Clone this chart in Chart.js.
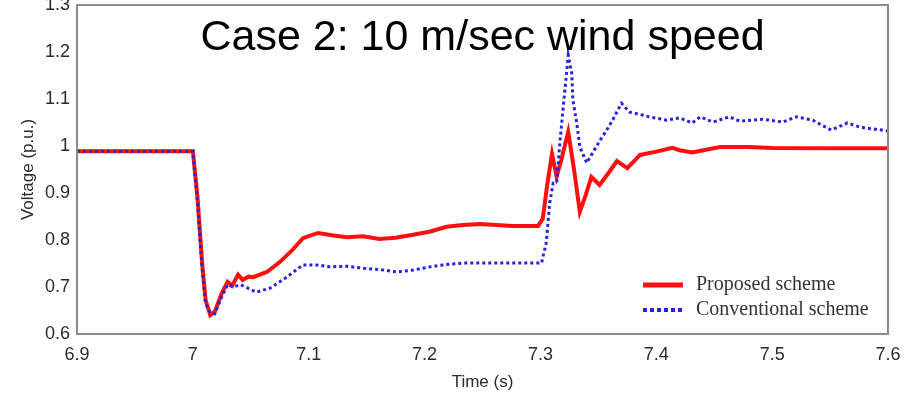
<!DOCTYPE html>
<html>
<head>
<meta charset="utf-8">
<script src="https://cdn.jsdelivr.net/npm/chart.js@4.4.1/dist/chart.umd.min.js"></script>
<style>
html,body{margin:0;padding:0;background:#fff;}
#wrap{width:906px;height:395px;}
</style>
</head>
<body>
<div id="wrap"><canvas id="c" width="906" height="395"></canvas></div>
<script>
// ---- data ----
const chartTitle = "Case 2: 10 m/sec wind speed";
const xTitle = "Time (s)";
const yTitle = "Voltage (p.u.)";
const seriesNames = ["Proposed scheme", "Conventional scheme"];
const xTicks = [6.9, 7.0, 7.1, 7.2, 7.3, 7.4, 7.5, 7.6];
const yTicks = [0.6, 0.7, 0.8, 0.9, 1.0, 1.1, 1.2, 1.3];

const proposedT = [6.9, 7.0, 7.004, 7.008, 7.011, 7.015, 7.019, 7.025, 7.030, 7.034, 7.039, 7.043, 7.048, 7.052,
  7.064, 7.075, 7.086, 7.095, 7.108, 7.120, 7.133, 7.147, 7.161, 7.175, 7.190, 7.205, 7.219, 7.233, 7.248,
  7.262, 7.276, 7.298, 7.302, 7.306, 7.310, 7.314, 7.318, 7.324, 7.329, 7.334, 7.339, 7.344, 7.351, 7.358,
  7.366, 7.375, 7.386, 7.400, 7.414, 7.420, 7.431, 7.445, 7.455, 7.480, 7.500, 7.550, 7.600];
const proposedV = [0.989, 0.989, 0.891, 0.751, 0.672, 0.640, 0.648, 0.687, 0.711, 0.703, 0.726, 0.715, 0.722, 0.721,
  0.732, 0.753, 0.779, 0.804, 0.815, 0.810, 0.806, 0.808, 0.802, 0.805, 0.811, 0.818, 0.828, 0.832, 0.834,
  0.832, 0.830, 0.830, 0.845, 0.920, 0.983, 0.935, 0.970, 1.030, 0.950, 0.860, 0.895, 0.934, 0.917, 0.940,
  0.968, 0.953, 0.981, 0.988, 0.996, 0.991, 0.986, 0.993, 0.998, 0.998, 0.996, 0.995, 0.995];

const conventionalT = [6.9, 7.0, 7.004, 7.008, 7.011, 7.015, 7.019, 7.025, 7.030, 7.035, 7.041, 7.047, 7.055,
  7.067, 7.081, 7.095, 7.107, 7.118, 7.133, 7.147, 7.162, 7.176, 7.190, 7.205, 7.219, 7.233, 7.262, 7.291,
  7.301, 7.305, 7.308, 7.311, 7.314, 7.317, 7.320, 7.324, 7.327, 7.328, 7.331, 7.334, 7.340, 7.350, 7.360,
  7.370, 7.377, 7.388, 7.394, 7.409, 7.420, 7.431, 7.438, 7.449, 7.463, 7.472, 7.492, 7.509, 7.521, 7.535,
  7.544, 7.551, 7.565, 7.576, 7.600];
const conventionalV = [0.989, 0.989, 0.880, 0.740, 0.665, 0.645, 0.643, 0.680, 0.705, 0.700, 0.705, 0.698, 0.689,
  0.698, 0.721, 0.747, 0.747, 0.743, 0.744, 0.740, 0.737, 0.732, 0.736, 0.743, 0.748, 0.751, 0.751, 0.751,
  0.751, 0.794, 0.879, 0.921, 0.922, 1.013, 1.091, 1.193, 1.155, 1.098, 1.055, 0.998, 0.964, 1.006, 1.045,
  1.091, 1.072, 1.066, 1.062, 1.055, 1.060, 1.049, 1.062, 1.051, 1.062, 1.053, 1.057, 1.051, 1.062, 1.055,
  1.043, 1.034, 1.049, 1.040, 1.032];

const toPts = (ts, vs) => ts.map((t, i) => ({x: t, y: vs[i]}));
const fmt = v => String(Number(v.toFixed(1)));
const SANS = '"Liberation Sans", Arial, sans-serif';

const framePlugin = {
  id: 'frameAndDecor',
  afterDraw(chart) {
    const {ctx, chartArea: a} = chart;
    ctx.save();
    // frame
    ctx.strokeStyle = '#8c8c8c';
    ctx.lineWidth = 2;
    ctx.strokeRect(a.left, a.top, a.right - a.left, a.bottom - a.top);
    // legend
    const ds = chart.data.datasets;
    const sx = a.right - 245, sl = 40, tx = a.right - 192;
    const rows = [a.bottom - 49, a.bottom - 24];
    ctx.font = '20px "Liberation Serif", "Times New Roman", serif';
    ctx.textBaseline = 'middle';
    ctx.textAlign = 'left';
    ds.forEach((d, i) => {
      const y = rows[i];
      ctx.beginPath();
      ctx.strokeStyle = d.borderColor;
      ctx.lineWidth = i === 0 ? 5 : 4;
      ctx.setLineDash(d.borderDash && d.borderDash.length ? [4, 3] : []);
      ctx.moveTo(sx, y);
      ctx.lineTo(sx + sl, y);
      ctx.stroke();
      ctx.setLineDash([]);
      ctx.fillStyle = '#333';
      ctx.fillText(d.label, tx, y);
    });
    // title overlay
    ctx.font = '43px ' + SANS;
    ctx.fillStyle = '#000';
    ctx.textAlign = 'center';
    ctx.textBaseline = 'alphabetic';
    ctx.fillText(chartTitle, (a.left + a.right) / 2, 50);
    ctx.restore();
  }
};

new Chart(document.getElementById('c'), {
  type: 'line',
  data: {
    datasets: [
      {label: seriesNames[0], data: toPts(proposedT, proposedV), borderColor: '#ff1010', borderWidth: 4,
       pointRadius: 0, tension: 0, fill: false, order: 2},
      {label: seriesNames[1], data: toPts(conventionalT, conventionalV), borderColor: '#2323e6', borderWidth: 3,
       borderDash: [3, 3], pointRadius: 0, tension: 0, fill: false, order: 1}
    ]
  },
  options: {
    responsive: false,
    animation: false,
    devicePixelRatio: 1,
    layout: {padding: {top: 5, right: 18, bottom: 0, left: 0}},
    plugins: {legend: {display: false}, title: {display: false}, tooltip: {enabled: false}},
    scales: {
      x: {
        type: 'linear', min: 6.9, max: 7.6,
        afterBuildTicks: s => { s.ticks = xTicks.map(v => ({value: v})); },
        afterFit: s => { s.height = 61; s.paddingLeft = 0; s.paddingRight = 0; },
        grid: {display: false, drawTicks: false, tickLength: 0},
        border: {display: false},
        ticks: {callback: v => fmt(v), padding: 10, color: '#2a2a2a', maxRotation: 0,
                font: {family: SANS, size: 18}},
        title: {display: true, text: xTitle, color: '#2a2a2a', padding: {top: 0, bottom: 2},
                font: {family: SANS, size: 17}}
      },
      y: {
        type: 'linear', min: 0.6, max: 1.3,
        afterBuildTicks: s => { s.ticks = yTicks.map(v => ({value: v})); },
        afterFit: s => { s.width = 77; s.paddingTop = 0; s.paddingBottom = 0; },
        grid: {display: false, drawTicks: false, tickLength: 0},
        border: {display: false},
        ticks: {callback: v => fmt(v), padding: 7, color: '#2a2a2a',
                font: {family: SANS, size: 18}},
        title: {display: true, text: yTitle, color: '#2a2a2a', padding: {top: 18, bottom: 0},
                font: {family: SANS, size: 17}}
      }
    }
  },
  plugins: [framePlugin]
});
</script>
</body>
</html>
